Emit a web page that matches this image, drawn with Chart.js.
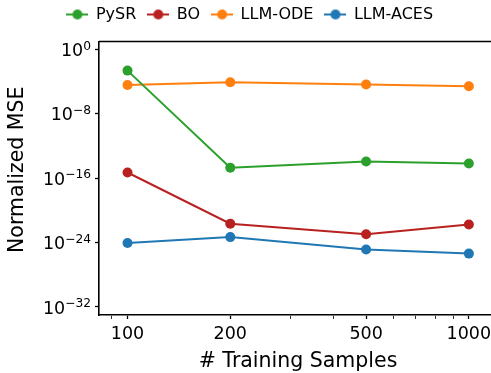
<!DOCTYPE html>
<html>
<head>
<meta charset="utf-8">
<script src="https://cdn.jsdelivr.net/npm/chart.js@4.4.1/dist/chart.umd.min.js"></script>
<style>
  html, body { margin: 0; padding: 0; background: #fff; overflow: hidden; }
  #wrap { width: 502px; height: 373px; }
</style>
</head>
<body>
<div id="wrap"><canvas id="mseChart" width="502" height="373"></canvas></div>
<script>
// ===========================
// Data
// ===========================

const samples = [100, 200, 500, 1000];
const pysr = [2.4e-3, 2.0e-15, 1.2e-14, 6.8e-15];
const bo = [5.2e-16, 2.2e-22, 1.1e-23, 1.8e-22];
const llmOde = [4.0e-5, 8.5e-5, 4.5e-5, 2.8e-5];
const llmAces = [8.7e-25, 4.8e-24, 1.4e-25, 4.3e-26];

const xTicks = [90, 100, 200, 300, 400, 500, 600, 700, 800, 900, 1000];
const xLabels = [100, 200, 500, 1000];
const yTicks = [1e0, 1e-8, 1e-16, 1e-24, 1e-32];

const FONT = "'DejaVu Sans', sans-serif";

const series = [
    { label: 'PySR', data: pysr, color: '#2ca02c' },
    { label: 'BO', data: bo, color: '#b8211f' },
    { label: 'LLM-ODE', data: llmOde, color: '#ff7f0e' },
    { label: 'LLM-ACES', data: llmAces, color: '#1f77b4' }
];

// ===========================
// Helpers
// ===========================

// small line-with-dot swatch for the legend
function legendSwatch(color) {
    const c = document.createElement('canvas');
    c.width = 22;
    c.height = 12;
    const g = c.getContext('2d');
    g.strokeStyle = color;
    g.lineWidth = 2;
    g.beginPath();
    g.moveTo(0, 6);
    g.lineTo(22, 6);
    g.stroke();
    g.fillStyle = color;
    g.beginPath();
    g.arc(11, 6, 5, 0, Math.PI * 2);
    g.fill();
    return c;
}

const swatches = series.map(s => legendSwatch(s.color));

// top frame line
const topSpine = {
    id: 'topSpine',
    afterDraw(chart) {
        const { ctx, chartArea } = chart;
        ctx.save();
        ctx.strokeStyle = '#000';
        ctx.lineWidth = 1.6;
        ctx.beginPath();
        ctx.moveTo(chartArea.left, chartArea.top);
        ctx.lineTo(chartArea.right, chartArea.top);
        ctx.stroke();
        ctx.restore();
    }
};

// pull the legend row up closer to the top edge
const legendShift = {
    id: 'legendShift',
    afterLayout(chart) {
        if (chart.legend) {
            chart.legend.top -= 9;
            chart.legend.bottom -= 9;
        }
    }
};

// y labels as 10 with a raised, smaller exponent, plus the rotated axis title
const yAxisText = {
    id: 'yAxisText',
    afterDraw(chart) {
        const { ctx, chartArea } = chart;
        const yScale = chart.scales.y;
        const right = 91;
        ctx.save();
        ctx.fillStyle = '#000';
        ctx.textBaseline = 'alphabetic';
        ctx.textAlign = 'left';
        yTicks.forEach(v => {
            const exp = Math.round(Math.log10(v));
            const expText = exp < 0 ? '\u2212' + Math.abs(exp) : String(exp);
            const y = yScale.getPixelForValue(v);
            ctx.font = `17.5px ${FONT}`;
            const baseW = ctx.measureText('10').width;
            ctx.font = `12.25px ${FONT}`;
            const expW = ctx.measureText(expText).width;
            const x0 = right - expW - baseW;
            ctx.font = `17.5px ${FONT}`;
            ctx.fillText('10', x0, y + 6.6);
            ctx.font = `12.25px ${FONT}`;
            ctx.fillText(expText, x0 + baseW, y + 0.2);
        });

        ctx.translate(18, (chartArea.top + chartArea.bottom) / 2 - 8.5);
        ctx.rotate(-Math.PI / 2);
        ctx.textAlign = 'center';
        ctx.textBaseline = 'middle';
        ctx.font = `20.5px ${FONT}`;
        ctx.fillText('Normalized MSE', 0, 0);
        ctx.restore();
    }
};

// ===========================
// Chart
// ===========================

const ctx = document.getElementById('mseChart');

new Chart(ctx, {
    type: 'line',
    data: {
        datasets: series.map(s => ({
            label: s.label,
            data: samples.map((x, i) => ({ x: x, y: s.data[i] })),
            borderColor: s.color,
            backgroundColor: s.color,
            pointBackgroundColor: s.color,
            pointBorderWidth: 0,
            pointRadius: 5,
            pointStyle: 'circle',
            borderWidth: 2,
            tension: 0
        }))
    },
    options: {
        responsive: false,
        animation: false,
        layout: { padding: { top: 4, right: 2, left: 0, bottom: 0 } },
        plugins: {
            tooltip: { enabled: false },
            legend: {
                position: 'top',
                labels: {
                    usePointStyle: true,
                    pointStyleWidth: 21,
                    padding: 11.5,
                    color: '#000',
                    font: { family: FONT, size: 16 },
                    generateLabels(chart) {
                        return chart.data.datasets.map((ds, i) => ({
                            text: ds.label,
                            pointStyle: swatches[i],
                            fillStyle: ds.borderColor,
                            strokeStyle: ds.borderColor,
                            lineWidth: 0,
                            fontColor: '#000',
                            datasetIndex: i
                        }));
                    }
                }
            }
        },
        scales: {
            x: {
                type: 'logarithmic',
                min: 82.5,
                max: 1209,
                afterBuildTicks(scale) {
                    scale.ticks = xTicks.map(v => ({ value: v, major: xLabels.includes(v) }));
                },
                afterFit(scale) { scale.height = 58; },
                ticks: {
                    autoSkip: false,
                    maxRotation: 0,
                    padding: 5,
                    color: '#000',
                    font: { family: FONT, size: 17.5 },
                    callback: v => (xLabels.includes(v) ? String(v) : '')
                },
                grid: {
                    drawOnChartArea: false,
                    drawTicks: true,
                    tickLength: 4,
                    tickColor: '#000',
                    tickWidth: c => (c.tick && xLabels.includes(c.tick.value) ? 1.3 : 0.8)
                },
                border: { color: '#000', width: 1.6 },
                title: {
                    display: true,
                    text: '# Training Samples',
                    color: '#000',
                    font: { family: FONT, size: 20.5 },
                    padding: { top: 0, bottom: -1 }
                }
            },
            y: {
                type: 'logarithmic',
                min: 1e-33,
                max: 1e1,
                afterBuildTicks(scale) {
                    scale.ticks = yTicks.map(v => ({ value: v, major: true }));
                },
                afterFit(scale) { scale.width = 99; },
                ticks: { display: false },
                grid: {
                    drawOnChartArea: false,
                    drawTicks: true,
                    tickLength: 4,
                    tickColor: '#000',
                    tickWidth: 1.3
                },
                border: { color: '#000', width: 1.6 },
                title: { display: false }
            }
        }
    },
    plugins: [topSpine, legendShift, yAxisText]
});
</script>
</body>
</html>
